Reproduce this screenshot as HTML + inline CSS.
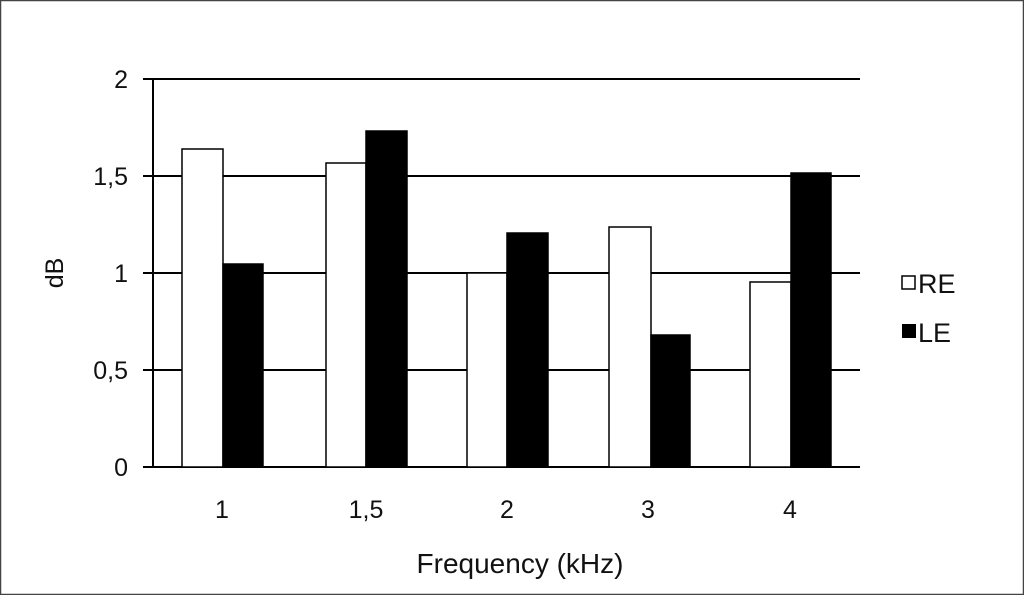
<!DOCTYPE html>
<html><head><style>
html,body{margin:0;padding:0;background:#fff}
</style></head><body>
<svg width="1024" height="595" xmlns="http://www.w3.org/2000/svg" font-family="Liberation Sans, sans-serif">
<rect x="0.5" y="0.5" width="1023" height="594" fill="#fff" stroke="#444" stroke-width="1.5"/>
<g stroke="#000" stroke-width="2">
<line x1="143" y1="79" x2="860" y2="79"/>
<line x1="143" y1="176" x2="860" y2="176"/>
<line x1="143" y1="273" x2="860" y2="273"/>
<line x1="143" y1="370" x2="860" y2="370"/>
<line x1="143" y1="467" x2="860" y2="467"/>
<line x1="153" y1="79" x2="153" y2="467"/>
</g>
<g stroke="#000" stroke-width="1.5">
<rect x="182" y="149" width="41" height="318" fill="#fff"/>
<rect x="223" y="264" width="40" height="203" fill="#000"/>
<rect x="326" y="163" width="40" height="304" fill="#fff"/>
<rect x="366" y="131" width="41" height="336" fill="#000"/>
<rect x="467" y="273" width="40" height="194" fill="#fff"/>
<rect x="507" y="233" width="41" height="234" fill="#000"/>
<rect x="609" y="227" width="42" height="240" fill="#fff"/>
<rect x="651" y="335" width="39" height="132" fill="#000"/>
<rect x="750" y="282" width="41" height="185" fill="#fff"/>
<rect x="791" y="173" width="40" height="294" fill="#000"/>
</g>
<g font-size="25" fill="#111" text-anchor="end">
<text x="128" y="88">2</text>
<text x="128" y="185">1,5</text>
<text x="128" y="282">1</text>
<text x="128" y="379">0,5</text>
<text x="128" y="476">0</text>
</g>
<g font-size="25" fill="#111" text-anchor="middle">
<text x="222" y="518">1</text>
<text x="366" y="518">1,5</text>
<text x="507" y="518">2</text>
<text x="648" y="518">3</text>
<text x="790" y="518">4</text>
<text x="520" y="573" font-size="28">Frequency (kHz)</text>
<text transform="translate(63,273) rotate(-90)" font-size="25">dB</text>
</g>
<rect x="902" y="276" width="13" height="13" fill="#fff" stroke="#000" stroke-width="1.5"/>
<text x="918" y="293" font-size="27" fill="#111">RE</text>
<rect x="902" y="324" width="14" height="14" fill="#000"/>
<text x="918" y="342" font-size="27" fill="#111">LE</text>
</svg>
</body></html>
